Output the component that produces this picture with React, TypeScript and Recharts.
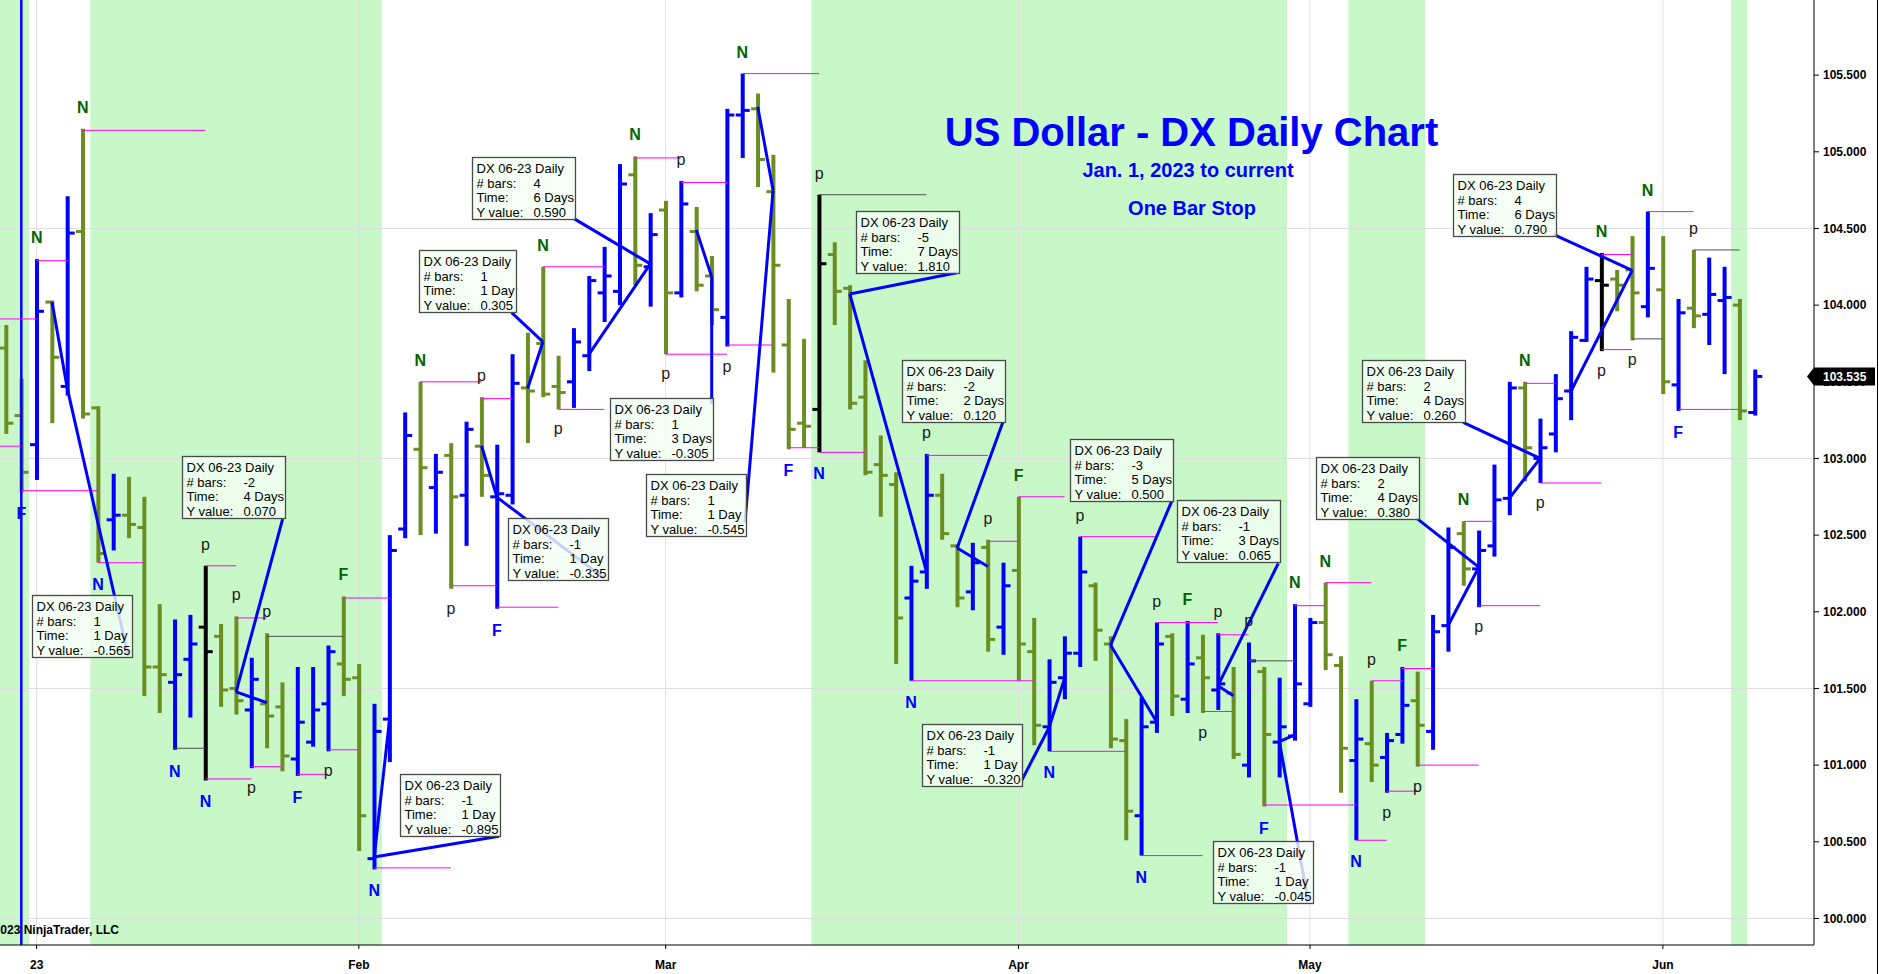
import React from 'react';
import {
  ComposedChart,
  Bar,
  XAxis,
  YAxis,
  ReferenceArea,
  ReferenceLine,
  ReferenceDot,
} from 'recharts';

const W = 1879;
const H = 974;
const FONT = '"Liberation Sans", Arial, Helvetica, sans-serif';

const BLUE = '#0000ff';
const OLIVE = '#6b8e23';
const BLACK = '#000000';
const MAGENTA = '#ff00ff';
const DARK = '#505050';
const GREEN_BG = '#c8f7c8';
const LABEL_GREEN = '#006400';

// DX 06-23 daily OHLC, bar 1 = 29 Dec 2022 ... bar 115 = 9 Jun 2023
const opens = [
  103.72, 103.28, 103.09, 104.02, 103.47, 104.48, 103.33, 102.6, 102.63, 102.55,
  101.64, 101.54, 101.69, 101.9, 101.84, 101.5, 101.36, 101.4, 101.38, 101.04,
  101.15, 101.4, 101.66, 101.57, 100.39, 101.3, 102.54, 103.06, 102.81, 103.02,
  102.76, 103.08, 102.75, 102.76, 103.46, 103.75, 103.47, 103.5, 103.67, 104.08,
  104.09, 104.85, 104.25, 104.62, 104.08, 104.48, 104.19, 103.92, 105.24, 105.28,
  104.74, 103.74, 103.23, 103.32, 104.33, 104.11, 103.4, 102.96, 102.83, 102.09,
  102.26, 102.76, 102.43, 102.13, 102.42, 101.9, 102.27, 101.74, 101.25, 101.57,
  101.73, 102.17, 101.79, 101.16, 100.67, 101.28, 101.84, 101.43, 101.7, 101.49,
  101.47, 101.0, 101.61, 101.15, 101.19, 101.4, 101.93, 101.65, 101.03, 101.14,
  101.05, 101.2, 101.42, 101.22, 101.91, 102.51, 102.28, 102.43, 102.74, 103.46,
  103.0, 103.16, 103.44, 103.77, 104.16, 104.17, 104.23, 103.99, 104.1, 103.48,
  103.98, 103.94, 104.03, 104.0, 103.3,
];
const highs = [
  103.87, 103.52, 104.3, 104.03, 104.71, 105.15, 103.34, 102.9, 102.88, 102.75,
  102.05, 101.95, 101.98, 102.3, 101.92, 101.97, 101.7, 101.86, 101.54, 101.64,
  101.64, 101.78, 102.1, 101.66, 101.4, 102.5, 103.3, 103.5, 103.03, 103.1,
  103.24, 103.4, 103.09, 103.68, 103.82, 104.25, 103.67, 103.85, 104.19, 104.38,
  104.92, 104.97, 104.6, 104.68, 104.81, 104.64, 104.32, 105.28, 105.51, 105.38,
  104.98, 104.04, 103.78, 104.72, 104.41, 104.13, 103.64, 103.15, 102.91, 102.3,
  103.03, 102.9, 102.44, 102.45, 102.47, 102.32, 102.75, 101.96, 101.69, 101.84,
  102.49, 102.19, 101.84, 101.3, 101.44, 101.93, 101.86, 101.94, 101.85, 101.86,
  101.64, 101.8, 101.64, 101.57, 102.05, 101.96, 102.19, 101.71, 101.43, 101.55,
  101.21, 101.64, 101.61, 101.98, 102.55, 102.59, 102.53, 102.96, 103.5, 103.5,
  103.26, 103.55, 103.83, 104.25, 104.34, 104.23, 104.45, 104.61, 104.45, 104.04,
  104.36, 104.31, 104.25, 104.04, 103.58,
];
const lows = [
  103.16, 102.78, 102.86, 103.23, 103.41, 103.26, 102.32, 102.4, 102.48, 101.45,
  101.34, 101.1, 101.31, 100.9, 101.38, 101.33, 100.98, 101.11, 100.96, 100.93,
  101.12, 101.09, 101.45, 100.44, 100.32, 101.02, 102.48, 102.5, 102.51, 102.15,
  102.43, 102.75, 102.02, 102.7, 103.1, 103.4, 103.32, 103.33, 103.57, 103.89,
  104.0, 104.13, 103.99, 103.68, 104.05, 104.09, 103.87, 103.73, 104.96, 104.77,
  103.56, 103.06, 103.07, 103.04, 103.87, 103.32, 102.89, 102.62, 101.66, 101.55,
  102.15, 102.47, 102.03, 102.01, 101.74, 101.72, 101.55, 101.13, 101.09, 101.43,
  101.64, 101.68, 101.11, 100.51, 100.41, 101.21, 101.32, 101.34, 101.34, 101.36,
  101.04, 100.92, 100.73, 100.92, 101.16, 101.38, 101.62, 100.82, 100.51, 100.89,
  100.82, 101.14, 100.99, 101.1, 101.74, 102.17, 102.03, 102.36, 102.63, 102.85,
  102.84, 103.04, 103.25, 103.76, 103.7, 103.96, 103.77, 103.92, 103.42, 103.31,
  103.85, 103.74, 103.55, 103.25, 103.28,
];
const closes = [
  103.23, 102.91, 103.96, 103.66, 104.47, 103.29, 102.38, 102.63, 102.57, 101.64,
  101.59, 101.59, 101.79, 101.74, 101.49, 101.42, 101.56, 101.32, 101.06, 101.28,
  101.36, 101.74, 101.56, 100.67, 101.22, 102.4, 103.15, 102.94, 102.91, 102.75,
  103.19, 102.89, 102.77, 103.49, 103.44, 103.42, 103.43, 103.76, 104.16, 104.19,
  104.79, 104.26, 104.46, 104.08, 104.66, 104.13, 103.97, 105.24, 105.27, 104.95,
  104.26, 103.19, 103.21, 104.27, 104.09, 103.36, 102.91, 102.89, 101.96, 102.2,
  102.76, 102.51, 102.09, 102.32, 101.82, 102.17, 101.79, 101.26, 101.54, 101.73,
  102.26, 101.88, 101.17, 100.7, 101.25, 101.79, 101.45, 101.66, 101.57, 101.53,
  101.07, 101.68, 101.2, 101.25, 101.53, 101.93, 101.72, 101.11, 101.17, 101.0,
  101.16, 101.39, 101.26, 101.87, 102.42, 102.28, 102.4, 102.73, 103.46, 103.07,
  103.07, 103.39, 103.79, 104.17, 104.13, 104.13, 104.08, 104.24, 103.5, 103.95,
  103.93, 104.07, 104.05, 103.31, 103.535,
];
// bars painted black on the source chart
const blackBars = [14, 54, 105];

// first bar of each month and its axis label
const monthBars = [3, 24, 44, 67, 86, 109];
const monthLabels = ['23', 'Feb', 'Mar', 'Apr', 'May', 'Jun'];

const priceTicks = [100, 100.5, 101, 101.5, 102, 102.5, 103, 103.5, 104, 104.5, 105, 105.5];
const gridPrices = [100, 101.5, 103, 104.5];

const xDomain: [number, number] = [0.61, 118.85];
const yDomain: [number, number] = [99.827, 105.99];

// shaded periods, in bar numbers
const shaded: [number, number][] = [
  [0.61, 2.5],
  [6.5, 25.5],
  [53.5, 84.5],
  [88.5, 93.5],
  [113.45, 114.5],
];
const markerLine = 2;

// stop lines: from bar, to bar, price, dark (true) or magenta
const stopLines: [number, number, number, boolean][] = [
  [0.61, 3, 103.91, false], [0.61, 2, 103.08, false], [3, 5, 104.29, false],
  [6, 14, 105.14, false], [2, 7, 102.79, false], [7, 10, 102.32, false],
  [14, 16, 102.3, false], [16, 18, 101.96, false], [18, 23, 101.84, true],
  [12, 14, 101.11, true], [14, 17, 100.91, false], [17, 19, 100.99, false],
  [20, 22, 100.94, false], [22, 24, 101.1, false], [23, 26, 102.09, false],
  [25, 30, 100.33, false], [28, 32, 103.5, false], [32, 34, 103.39, false],
  [30, 33, 102.17, false], [33, 37, 102.03, false], [36, 40, 104.25, false],
  [37, 40, 103.32, false], [42, 45, 104.96, false], [45, 48, 104.8, false],
  [44, 48, 103.68, false], [48, 51, 103.74, false], [49, 54, 105.51, false],
  [54, 61, 104.72, true], [52, 54, 103.07, false], [54, 57, 103.04, false],
  [61, 65, 103.02, false], [65, 67, 102.46, false], [67, 70, 102.75, false],
  [60, 68, 101.55, false], [69, 74, 101.09, false], [71, 76, 102.49, false],
  [75, 79, 100.41, false], [76, 80, 101.93, false], [79, 81, 101.35, false],
  [80, 82, 101.85, false], [82, 85, 101.68, true], [83, 89, 100.74, false],
  [85, 87, 102.04, false], [87, 90, 102.19, false], [89, 91, 100.51, false],
  [90, 92, 101.55, false], [91, 93, 100.83, false], [92, 94, 101.63, false],
  [93, 97, 101.0, false], [96, 98, 102.59, false], [97, 101, 102.04, false],
  [100, 102, 103.49, false], [101, 105, 102.84, false], [105, 107, 104.33, false],
  [105, 107, 103.71, false], [107, 109, 103.78, true], [108, 111, 104.61, false],
  [111, 114, 104.36, true], [110, 114, 103.32, false],
];

// swing letters: bar, letter, a = above high / b = below low
const letters: [number, string, 'a' | 'b'][] = [
  [3, 'N', 'a'], [6, 'N', 'a'], [14, 'p', 'a'], [16, 'p', 'a'], [18, 'p', 'a'],
  [23, 'F', 'a'], [28, 'N', 'a'], [32, 'p', 'a'], [36, 'N', 'a'], [42, 'N', 'a'],
  [45, 'p', 'a'], [49, 'N', 'a'], [54, 'p', 'a'], [61, 'p', 'a'], [65, 'p', 'a'],
  [67, 'F', 'a'], [71, 'p', 'a'], [76, 'p', 'a'], [78, 'F', 'a'], [80, 'p', 'a'],
  [82, 'p', 'a'], [85, 'N', 'a'], [87, 'N', 'a'], [90, 'p', 'a'], [92, 'F', 'a'],
  [96, 'N', 'a'], [100, 'N', 'a'], [105, 'N', 'a'], [108, 'N', 'a'], [111, 'p', 'a'],
  [2, 'F', 'b'], [7, 'N', 'b'], [12, 'N', 'b'], [14, 'N', 'b'], [17, 'p', 'b'],
  [20, 'F', 'b'], [22, 'p', 'b'], [25, 'N', 'b'], [30, 'p', 'b'], [33, 'F', 'b'],
  [37, 'p', 'b'], [44, 'p', 'b'], [48, 'p', 'b'], [52, 'F', 'b'], [54, 'N', 'b'],
  [60, 'N', 'b'], [69, 'N', 'b'], [75, 'N', 'b'], [79, 'p', 'b'], [83, 'F', 'b'],
  [89, 'N', 'b'], [91, 'p', 'b'], [93, 'p', 'b'], [97, 'p', 'b'], [101, 'p', 'b'],
  [105, 'p', 'b'], [107, 'p', 'b'], [110, 'F', 'b'],
];

// ruler drawings: line through [bar, price] points, info box top-left corner
type Ruler = { bars: string; time: string; value: string; path: [number, number][]; box: [number, number] };
const rulers: Ruler[] = [
  { bars: '1', time: '1 Day', value: '-0.565', path: [[4, 104.02], [5, 103.455], [8.97, 101.71]], box: [2.67, 102.11] },
  { bars: '-2', time: '4 Days', value: '0.070', path: [[18, 101.408], [16, 101.478], [19.03, 102.604]], box: [12.45, 103.018] },
  { bars: '1', time: '1 Day', value: '0.305', path: [[35, 103.456], [36, 103.761], [33.96, 103.951]], box: [27.92, 104.357] },
  { bars: '4', time: '6 Days', value: '0.590', path: [[39, 103.679], [43, 104.269], [38.02, 104.564]], box: [31.4, 104.969] },
  { bars: '1', time: '3 Days', value: '-0.305', path: [[46, 104.49], [47, 104.185], [47, 103.355]], box: [40.37, 103.395] },
  { bars: '1', time: '1 Day', value: '-0.545', path: [[50, 105.294], [51, 104.749], [49.17, 102.584]], box: [42.7, 102.9] },
  { bars: '-1', time: '1 Day', value: '-0.335', path: [[32, 103.083], [33, 102.748], [39.98, 102.219]], box: [33.7, 102.612] },
  { bars: '-1', time: '1 Day', value: '-0.895', path: [[26, 101.296], [25, 100.401], [33.14, 100.536]], box: [26.68, 100.94] },
  { bars: '-5', time: '7 Days', value: '1.810', path: [[61, 102.263], [56, 104.073], [62.97, 104.211]], box: [56.39, 104.615] },
  { bars: '-2', time: '2 Days', value: '0.120', path: [[65, 102.296], [63, 102.416], [65.97, 103.235]], box: [59.38, 103.64] },
  { bars: '-1', time: '1 Day', value: '-0.320', path: [[70, 101.567], [69, 101.247], [67.2, 100.899]], box: [60.69, 101.271] },
  { bars: '-3', time: '5 Days', value: '0.500', path: [[76, 101.283], [73, 101.783], [76.98, 102.72]], box: [70.35, 103.126] },
  { bars: '-1', time: '3 Days', value: '0.065', path: [[81, 101.453], [80, 101.518], [83.93, 102.316]], box: [77.36, 102.729] },
  { bars: '-1', time: '1 Day', value: '-0.045', path: [[85, 101.198], [84, 101.153], [85.88, 100.109]], box: [79.65, 100.502] },
  { bars: '2', time: '4 Days', value: '0.380', path: [[95, 101.911], [97, 102.291], [92.94, 102.611]], box: [86.36, 103.012] },
  { bars: '2', time: '4 Days', value: '0.260', path: [[99, 102.741], [101, 103.001], [95.98, 103.235]], box: [89.36, 103.64] },
  { bars: '4', time: '6 Days', value: '0.790', path: [[103, 103.437], [107, 104.227], [101.86, 104.462]], box: [95.33, 104.858] },
];

const rows = opens.map((open, k) => ({
  n: k + 1,
  open,
  high: highs[k],
  low: lows[k],
  close: closes[k],
  range: [lows[k], highs[k]],
}));

const barColor = (d: any) => {
  if (blackBars.includes(d.n)) return BLACK;
  return d.close >= d.open ? BLUE : OLIVE;
};

// one OHLC bar: vertical high-low stroke, open tick left, close tick right
const OhlcBar = (props: any) => {
  const { x, y, width, height, payload } = props;
  if (!payload || !Number.isFinite(y) || !Number.isFinite(x)) return null;
  const cx = x + width / 2;
  const top = Math.min(y, y + height);
  const span = Math.abs(height);
  const range = payload.high - payload.low || 1;
  const yOf = (v: number) => top + ((payload.high - v) / range) * span;
  const color = barColor(payload);
  return (
    <g>
      <rect x={cx - 2} y={top} width={4} height={Math.max(span, 1)} fill={color} />
      <rect x={cx - 7} y={yOf(payload.open) - 1.5} width={7} height={3} fill={color} />
      <rect x={cx} y={yOf(payload.close) - 1.5} width={7} height={3} fill={color} />
    </g>
  );
};

const CHAR_W: Record<string, number> = {
  ' ': 0.278, '.': 0.278, '-': 0.333, D: 0.722, a: 0.556, y: 0.5, s: 0.5,
};
const textWidth = (s: string, size: number) =>
  s.split('').reduce((w, c) => w + (CHAR_W[c] ?? 0.556), 0) * size;

const RulerBox = ({ cx, cy, r }: { cx: number; cy: number; r: Ruler }) => {
  const w = Math.round(63 + Math.max(textWidth(r.bars, 13), textWidth(r.time, 13), textWidth(r.value, 13)));
  const x0 = Math.round(cx) + 0.5;
  const y0 = Math.round(cy) + 0.5;
  const rowsText: [string, string][] = [
    ['DX 06-23 Daily', ''],
    ['# bars:', r.bars],
    ['Time:', r.time],
    ['Y value:', r.value],
  ];
  return (
    <g>
      <rect x={x0} y={y0} width={w} height={62} fill="#f4fff4" fillOpacity={0.82} stroke="#4a4a4a" strokeWidth={1.3} />
      {rowsText.map(([label, value], k) => (
        <g key={k} fontFamily={FONT} fontSize={13} fill="#000">
          <text x={x0 + 4} y={y0 + 15.5 + k * 14.7}>{label}</text>
          {value && <text x={x0 + 61} y={y0 + 15.5 + k * 14.7}>{value}</text>}
        </g>
      ))}
    </g>
  );
};

const letterColor = (ch: string, side: 'a' | 'b') => {
  if (ch === 'p') return '#1a1a1a';
  return side === 'a' ? LABEL_GREEN : BLUE;
};

const tickStyle = { fontSize: 12, fontWeight: 'bold', fill: '#000', fontFamily: FONT };

export default function App() {
  const lastClose = closes[closes.length - 1];
  return (
    <div
      style={{
        position: 'absolute',
        left: 0,
        top: 0,
        width: W,
        height: H,
        background: '#ffffff',
        overflow: 'hidden',
        fontFamily: FONT,
      }}
    >
      <ComposedChart width={W} height={H} data={rows} margin={{ top: 0, right: 0, bottom: 0, left: 0 }}>
        <XAxis
          dataKey="n"
          type="number"
          domain={xDomain}
          allowDataOverflow
          ticks={monthBars}
          interval={0}
          tickFormatter={(v: number) => monthLabels[monthBars.indexOf(v)] ?? ''}
          height={29}
          tickSize={4}
          tickMargin={11}
          tick={tickStyle}
          axisLine={{ stroke: '#000' }}
          tickLine={{ stroke: '#000' }}
        />
        <YAxis
          orientation="right"
          type="number"
          domain={yDomain}
          allowDataOverflow
          ticks={priceTicks}
          interval={0}
          tickFormatter={(v: number) => v.toFixed(3)}
          width={65}
          tickSize={5}
          tickMargin={4}
          tick={tickStyle}
          axisLine={{ stroke: '#000' }}
          tickLine={{ stroke: '#000' }}
        />

        {shaded.map(([a, b], k) => (
          <ReferenceArea key={`s${k}`} x1={a} x2={b} fill={GREEN_BG} fillOpacity={1} stroke="none" ifOverflow="hidden" zIndex={100} />
        ))}
        {gridPrices.map((p) => (
          <ReferenceLine key={`gy${p}`} y={p} stroke="#dedede" strokeWidth={1} zIndex={150} />
        ))}
        {monthBars.map((b) => (
          <ReferenceLine key={`gx${b}`} x={b} stroke="#dedede" strokeWidth={1} zIndex={150} />
        ))}
        <ReferenceLine x={markerLine} stroke={BLUE} strokeWidth={2.5} />

        {stopLines.map(([a, b, p, dark], k) => (
          <ReferenceLine
            key={`st${k}`}
            segment={[{ x: a, y: p }, { x: b, y: p }]}
            stroke={dark ? DARK : MAGENTA}
            strokeWidth={1}
            ifOverflow="visible"
          />
        ))}

        <Bar dataKey="range" barSize={4} shape={OhlcBar} isAnimationActive={false} />

        {rulers.flatMap((r, k) =>
          r.path.slice(1).map((pt, j) => (
            <ReferenceLine
              key={`r${k}-${j}`}
              segment={[{ x: r.path[j][0], y: r.path[j][1] }, { x: pt[0], y: pt[1] }]}
              stroke={BLUE}
              strokeWidth={3}
              ifOverflow="visible"
            />
          ))
        )}

        {letters.map(([bar, ch, side], k) => (
          <ReferenceDot
            key={`l${k}`}
            x={bar}
            y={side === 'a' ? highs[bar - 1] : lows[bar - 1]}
            r={0}
            ifOverflow="visible"
            zIndex={2000}
            shape={(p: any) => (
              <text
                x={p.cx}
                y={side === 'a' ? p.cy - 16 : p.cy + (ch === 'p' ? 25 : 27)}
                textAnchor="middle"
                fontFamily={FONT}
                fontWeight={ch === 'p' ? 'normal' : 'bold'}
                fontSize={16}
                fill={letterColor(ch, side)}
              >
                {ch}
              </text>
            )}
          />
        ))}

        {rulers.map((r, k) => (
          <ReferenceDot
            key={`b${k}`}
            x={r.box[0]}
            y={r.box[1]}
            r={0}
            ifOverflow="visible"
            zIndex={2100}
            shape={(p: any) => <RulerBox cx={p.cx} cy={p.cy} r={r} />}
          />
        ))}

        <ReferenceDot
          x={xDomain[1]}
          y={lastClose}
          r={0}
          ifOverflow="visible"
          zIndex={2500}
          shape={(p: any) => (
            <g>
              <polygon
                points={`${p.cx - 7},${p.cy} ${p.cx},${p.cy - 9} ${p.cx + 61},${p.cy - 9} ${p.cx + 61},${p.cy + 9} ${p.cx},${p.cy + 9}`}
                fill="#000"
              />
              <text x={p.cx + 9} y={p.cy + 4.5} fontFamily={FONT} fontWeight="bold" fontSize={12} fill="#fff">
                {lastClose.toFixed(3)}
              </text>
            </g>
          )}
        />
      </ComposedChart>

      <svg
        width={W}
        height={H}
        style={{ position: 'absolute', left: 0, top: 0, pointerEvents: 'none' }}
      >
        <text x={1191.5} y={146} textAnchor="middle" fontFamily={FONT} fontWeight="bold" fontSize={40} fill={BLUE}>
          US Dollar - DX Daily Chart
        </text>
        <text x={1188} y={177} textAnchor="middle" fontFamily={FONT} fontWeight="bold" fontSize={20} fill={BLUE}>
          Jan. 1, 2023 to current
        </text>
        <text x={1192} y={214.5} textAnchor="middle" fontFamily={FONT} fontWeight="bold" fontSize={20} fill={BLUE}>
          One Bar Stop
        </text>
        <text x={119} y={933.5} textAnchor="end" fontFamily={FONT} fontWeight="bold" fontSize={12} fill="#000">
          © 2023 NinjaTrader, LLC
        </text>
        <line x1={1877.5} y1={0} x2={1877.5} y2={H} stroke="#000" strokeWidth={1} />
      </svg>
    </div>
  );
}
